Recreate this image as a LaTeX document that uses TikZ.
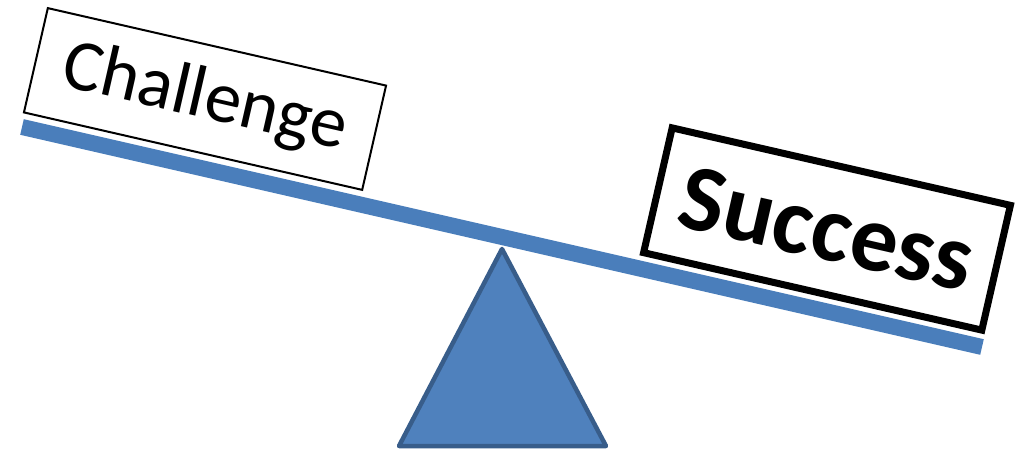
\documentclass[tikz,border=0pt]{standalone}
\usepackage{fontspec}
\setmainfont{Carlito}
\definecolor{beamblue}{HTML}{4A7EBB}
\definecolor{trifill}{HTML}{4F81BD}
\definecolor{tristroke}{HTML}{385D8A}
\begin{document}
\begin{tikzpicture}[x=1pt,y=-1pt,
  beam/.style={draw=beamblue,line width=16pt,line cap=butt},
  fulcrum/.style={draw=tristroke,fill=trifill,line width=4.5pt,line join=round},
  weightbox/.style={draw=black,fill=white,rotate=-12.9,inner sep=0pt,align=center}]
\useasboundingbox (0,0) rectangle (1026,449);
\coordinate (bl) at (22,127);
\coordinate (br) at (982,347);
\draw[beam] (bl) -- (br);
\coordinate (apex) at (502,249);
\coordinate (baseL) at (399,446);
\coordinate (baseR) at (606,446);
\draw[fulcrum] (apex) -- (baseR) -- (baseL) -- cycle;
\node[weightbox,line width=2pt,minimum width=347pt,minimum height=107pt,font=\fontsize{73}{73}\selectfont] (challenge) at (205,99) {Challenge};
\node[weightbox,line width=7pt,minimum width=347pt,minimum height=128pt,font=\fontsize{95}{95}\selectfont\bfseries] (success) at (827,229) {Success};
\end{tikzpicture}
\end{document}
